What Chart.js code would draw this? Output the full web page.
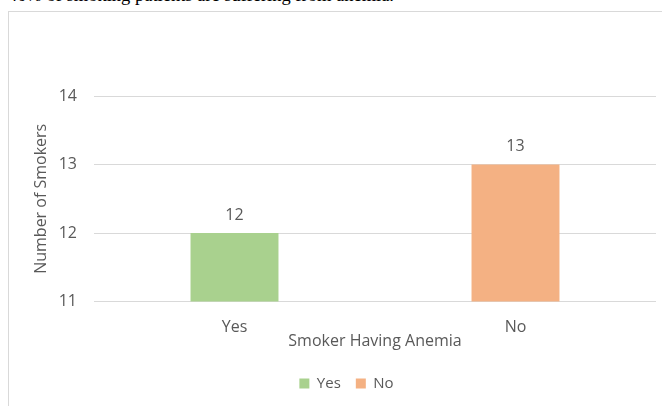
<!DOCTYPE html>
<html>
<head>
<meta charset="utf-8">
<script src="https://cdn.jsdelivr.net/npm/chart.js@4.4.1/dist/chart.umd.min.js"></script>
<style>
  html, body { margin: 0; padding: 0; background: #fff; overflow: hidden; }
  body { width: 662px; height: 406px; position: relative; }
  #caption {
    position: absolute; left: 8px; top: -15px;
    font-family: "Liberation Serif", "Times New Roman", serif;
    font-size: 18.5px; line-height: 20px; color: #000; white-space: nowrap;
  }
  #box {
    position: absolute; left: 8px; top: 11px; width: 680px; height: 410px;
    border: 1px solid #d9d9d9; box-sizing: border-box;
  }
  #wrap { position: absolute; left: 1px; top: 1px; width: 673px; height: 400px; }
</style>
</head>
<body>
<div id="caption">40% of smoking patients are suffering from anemia.</div>
<div id="box"><div id="wrap"><canvas id="chart"></canvas></div></div>
<script>
const categories = ["Yes", "No"];
const yesValues = [12, null];
const noValues = [null, 13];
const yTicks = [11, 12, 13, 14];

const textColor = "#595959";
const fam = "'Open Sans', 'Noto Sans', sans-serif";
const font = { family: fam, size: 16 };

// labels above bars
const barLabels = {
  id: "barLabels",
  afterDatasetsDraw(chart) {
    const ctx = chart.ctx;
    ctx.save();
    ctx.fillStyle = textColor;
    ctx.font = "16px " + fam;
    ctx.textAlign = "center";
    ctx.textBaseline = "middle";
    chart.data.datasets.forEach((ds, i) => {
      chart.getDatasetMeta(i).data.forEach((bar, j) => {
        if (ds.data[j] == null) return;
        ctx.fillText(ds.data[j], bar.x, bar.y - 18);
      });
    });
    ctx.restore();
  }
};

new Chart(document.getElementById("chart"), {
  type: "bar",
  data: {
    labels: categories,
    datasets: [
      { label: "Yes", data: yesValues, backgroundColor: "#a9d18e", skipNull: true,
        barPercentage: 1, categoryPercentage: 0.313 },
      { label: "No", data: noValues, backgroundColor: "#f4b183", skipNull: true,
        barPercentage: 1, categoryPercentage: 0.313 }
    ]
  },
  options: {
    responsive: true,
    maintainAspectRatio: false,
    animation: false,
    layout: { padding: { left: 27, right: 27, top: 83, bottom: 12 } },
    plugins: {
      tooltip: { enabled: false },
      legend: {
        position: "bottom",
        labels: { color: textColor, font: { family: fam, size: 15 }, boxWidth: 10, boxHeight: 10, padding: 15 }
      }
    },
    scales: {
      x: {
        grid: { display: false },
        border: { display: false },
        ticks: { color: textColor, font: font, padding: 8 },
        title: { display: true, text: "Smoker Having Anemia", color: textColor,
                 font: { family: fam, size: 16 }, padding: { top: -13, bottom: 10 } }
      },
      y: {
        min: 11, max: 14,
        afterBuildTicks(axis) { axis.ticks = yTicks.map(v => ({ value: v })); },
        afterFit(axis) { axis.width = 57; },
        grid: { color: "#d9d9d9", drawTicks: false },
        border: { display: false },
        ticks: { color: textColor, font: font, padding: 17 },
        title: { display: true, text: "Number of Smokers", color: textColor,
                 font: { family: fam, size: 16 }, padding: { top: -5.6, bottom: 0 } }
      }
    }
  },
  plugins: [barLabels]
});
</script>
</body>
</html>
